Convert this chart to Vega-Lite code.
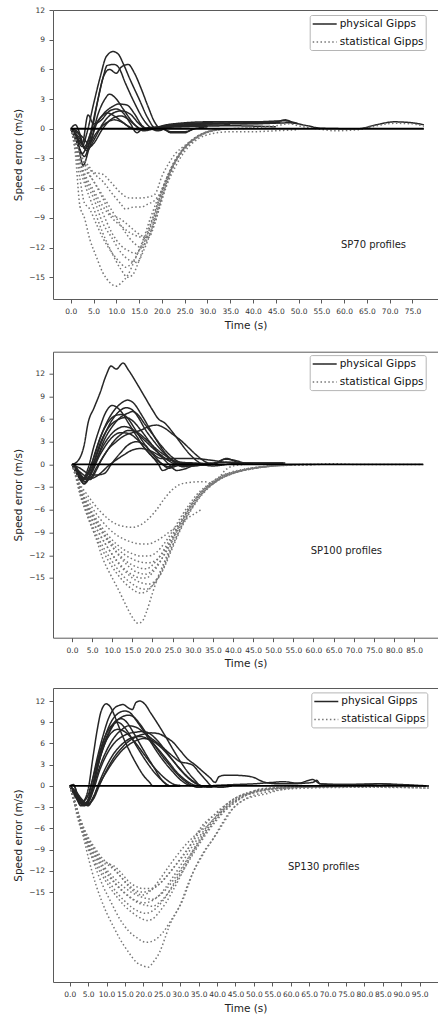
{
  "$schema": "https://vega.github.io/schema/vega-lite/v6.json",
  "padding": {"left": 13, "top": 6, "right": 0, "bottom": 0},
  "bounds": "flush",
  "spacing": 52.7,
  "resolve": {"scale": {"color": "independent", "strokeDash": "independent"}},
  "config": {
    "font": "DejaVu Sans",
    "view": {"stroke": null},
    "axis": {"domainColor": "#5a5a5a", "domainWidth": 1, "tickColor": "#5a5a5a", "tickSize": 4, "labelFontSize": 7.5, "labelColor": "#333333", "labelPadding": 4.5, "titleFontSize": 10.5, "titleFontWeight": "normal", "titleColor": "#222222", "grid": false, "labelFont": "DejaVu Sans", "titleFont": "DejaVu Sans", "labelOverlap": false},
    "axisX": {"titlePadding": 5, "labelAngle": 0, "labelOverlap": false, "labelFlush": false},
    "axisY": {"titlePadding": 5, "labelOverlap": false, "labelFlush": false},
    "legend": {"symbolSize": 144, "symbolStrokeWidth": 1.5, "padding": 2, "rowPadding": 5, "labelOffset": 8, "symbolOffset": 6, "fillColor": "#ffffff", "strokeColor": "#b5b5b5", "cornerRadius": 2, "labelFontSize": 10.5, "labelColor": "#111111", "labelLimit": 300, "labelFont": "DejaVu Sans"}
  },
  "datasets": {
    "d70": [
      {"g":"pa","m":"p","t":0,"v":0},{"g":"pa","m":"p","t":1,"v":-0.6},{"g":"pa","m":"p","t":2.5,"v":-1.8},{"g":"pa","m":"p","t":3.5,"v":-0.5},{"g":"pa","m":"p","t":5,"v":2.5},{"g":"pa","m":"p","t":6.5,"v":5.3},{"g":"pa","m":"p","t":7.8,"v":7.3},{"g":"pa","m":"p","t":9.3,"v":7.8},{"g":"pa","m":"p","t":10.5,"v":7.5},{"g":"pa","m":"p","t":11.5,"v":6.6},{"g":"pa","m":"p","t":13,"v":5},{"g":"pa","m":"p","t":15,"v":3},{"g":"pa","m":"p","t":17,"v":1},{"g":"pa","m":"p","t":18.5,"v":0.1},{"g":"pa","m":"p","t":20,"v":0.3},{"g":"pa","m":"p","t":25,"v":0.6},{"g":"pa","m":"p","t":30,"v":0.7},{"g":"pa","m":"p","t":40,"v":0.7},{"g":"pa","m":"p","t":47,"v":0.8},{"g":"pa","m":"p","t":50,"v":0.5},
      {"g":"pb","m":"p","t":0,"v":0},{"g":"pb","m":"p","t":1,"v":-1},{"g":"pb","m":"p","t":2.5,"v":-2.5},{"g":"pb","m":"p","t":4,"v":-1},{"g":"pb","m":"p","t":5.5,"v":2},{"g":"pb","m":"p","t":7,"v":5},{"g":"pb","m":"p","t":8,"v":6.4},{"g":"pb","m":"p","t":9.5,"v":6.5},{"g":"pb","m":"p","t":10.5,"v":6.2},{"g":"pb","m":"p","t":12,"v":4.6},{"g":"pb","m":"p","t":14,"v":2.6},{"g":"pb","m":"p","t":16,"v":0.9},{"g":"pb","m":"p","t":17.5,"v":0.1},{"g":"pb","m":"p","t":19,"v":-0.2},{"g":"pb","m":"p","t":22,"v":0.2},{"g":"pb","m":"p","t":30,"v":0.5},{"g":"pb","m":"p","t":40,"v":0.6},{"g":"pb","m":"p","t":46,"v":0.6},
      {"g":"pc","m":"p","t":0,"v":0},{"g":"pc","m":"p","t":1.5,"v":-1.5},{"g":"pc","m":"p","t":3,"v":-2.8},{"g":"pc","m":"p","t":4.5,"v":-0.5},{"g":"pc","m":"p","t":6,"v":3},{"g":"pc","m":"p","t":7.2,"v":5.3},{"g":"pc","m":"p","t":8.5,"v":6},{"g":"pc","m":"p","t":10,"v":5.6},{"g":"pc","m":"p","t":11,"v":6.2},{"g":"pc","m":"p","t":12.6,"v":6.5},{"g":"pc","m":"p","t":14,"v":5.6},{"g":"pc","m":"p","t":15.5,"v":4},{"g":"pc","m":"p","t":17,"v":2.2},{"g":"pc","m":"p","t":18.5,"v":0.6},{"g":"pc","m":"p","t":19.5,"v":0.1},{"g":"pc","m":"p","t":21,"v":0.3},{"g":"pc","m":"p","t":30,"v":0.6},{"g":"pc","m":"p","t":40,"v":0.5},{"g":"pc","m":"p","t":48,"v":0.6},{"g":"pc","m":"p","t":52,"v":0.3},{"g":"pc","m":"p","t":55,"v":0.05},{"g":"pc","m":"p","t":63,"v":0},{"g":"pc","m":"p","t":67,"v":0.4},{"g":"pc","m":"p","t":71,"v":0.7},{"g":"pc","m":"p","t":75,"v":0.6},{"g":"pc","m":"p","t":77.5,"v":0.4},
      {"g":"pd","m":"p","t":0,"v":0},{"g":"pd","m":"p","t":1,"v":0.4},{"g":"pd","m":"p","t":2,"v":-0.5},{"g":"pd","m":"p","t":3,"v":-2},{"g":"pd","m":"p","t":4.5,"v":-1},{"g":"pd","m":"p","t":6,"v":1.5},{"g":"pd","m":"p","t":7.5,"v":3},{"g":"pd","m":"p","t":8.5,"v":3.5},{"g":"pd","m":"p","t":10,"v":3},{"g":"pd","m":"p","t":11.5,"v":2},{"g":"pd","m":"p","t":13,"v":1},{"g":"pd","m":"p","t":14.5,"v":0.2},{"g":"pd","m":"p","t":16,"v":-0.2},{"g":"pd","m":"p","t":20,"v":0.2},{"g":"pd","m":"p","t":30,"v":0.5},{"g":"pd","m":"p","t":45,"v":0.7},{"g":"pd","m":"p","t":47,"v":0.9},{"g":"pd","m":"p","t":49,"v":0.5},
      {"g":"pe","m":"p","t":0,"v":0},{"g":"pe","m":"p","t":1.5,"v":-1.2},{"g":"pe","m":"p","t":2.7,"v":-3.7},{"g":"pe","m":"p","t":4,"v":-2},{"g":"pe","m":"p","t":5.5,"v":0.3},{"g":"pe","m":"p","t":7,"v":1.4},{"g":"pe","m":"p","t":9,"v":2.2},{"g":"pe","m":"p","t":10.5,"v":2.5},{"g":"pe","m":"p","t":12.3,"v":2.4},{"g":"pe","m":"p","t":14,"v":1.5},{"g":"pe","m":"p","t":15.5,"v":0.4},{"g":"pe","m":"p","t":17,"v":0},{"g":"pe","m":"p","t":20,"v":0.2},{"g":"pe","m":"p","t":25,"v":0.5},{"g":"pe","m":"p","t":35,"v":0.5},{"g":"pe","m":"p","t":45,"v":0.6},
      {"g":"pf","m":"p","t":0,"v":0},{"g":"pf","m":"p","t":1,"v":-0.5},{"g":"pf","m":"p","t":2.5,"v":-1.5},{"g":"pf","m":"p","t":3.8,"v":1.4},{"g":"pf","m":"p","t":5,"v":0.5},{"g":"pf","m":"p","t":6.5,"v":0.8},{"g":"pf","m":"p","t":8.5,"v":1.8},{"g":"pf","m":"p","t":10,"v":2},{"g":"pf","m":"p","t":11.5,"v":1.6},{"g":"pf","m":"p","t":13,"v":0.6},{"g":"pf","m":"p","t":14.5,"v":-0.4},{"g":"pf","m":"p","t":15.5,"v":-0.1},{"g":"pf","m":"p","t":17,"v":0.1},{"g":"pf","m":"p","t":20,"v":0.2},{"g":"pf","m":"p","t":30,"v":0.3},
      {"g":"pg","m":"p","t":0,"v":0},{"g":"pg","m":"p","t":2,"v":-1},{"g":"pg","m":"p","t":3.5,"v":-2.2},{"g":"pg","m":"p","t":5,"v":-1.2},{"g":"pg","m":"p","t":7,"v":0.5},{"g":"pg","m":"p","t":9,"v":1.5},{"g":"pg","m":"p","t":11,"v":1.8},{"g":"pg","m":"p","t":13,"v":1.5},{"g":"pg","m":"p","t":15,"v":0.5},{"g":"pg","m":"p","t":16.5,"v":0},{"g":"pg","m":"p","t":20,"v":0},{"g":"pg","m":"p","t":22,"v":-0.4},{"g":"pg","m":"p","t":25,"v":-0.4},{"g":"pg","m":"p","t":26.5,"v":-0.1},{"g":"pg","m":"p","t":30,"v":0.2},
      {"g":"ph","m":"p","t":0,"v":0},{"g":"ph","m":"p","t":2,"v":-1.3},{"g":"ph","m":"p","t":3.5,"v":-2},{"g":"ph","m":"p","t":5,"v":-1.5},{"g":"ph","m":"p","t":7,"v":0},{"g":"ph","m":"p","t":9,"v":1},{"g":"ph","m":"p","t":11,"v":1.3},{"g":"ph","m":"p","t":12.5,"v":1},{"g":"ph","m":"p","t":14,"v":0.4},{"g":"ph","m":"p","t":15.5,"v":0},{"g":"ph","m":"p","t":20,"v":0},{"g":"ph","m":"p","t":22,"v":-0.3},{"g":"ph","m":"p","t":25,"v":-0.3},{"g":"ph","m":"p","t":27,"v":0},
      {"g":"pi","m":"p","t":0,"v":0},{"g":"pi","m":"p","t":2.5,"v":-0.8},{"g":"pi","m":"p","t":4,"v":-1.5},{"g":"pi","m":"p","t":5.5,"v":-0.5},{"g":"pi","m":"p","t":7.5,"v":0.5},{"g":"pi","m":"p","t":9.5,"v":0.9},{"g":"pi","m":"p","t":11.5,"v":0.6},{"g":"pi","m":"p","t":13,"v":0.1},{"g":"pi","m":"p","t":15,"v":-0.1},{"g":"pi","m":"p","t":19,"v":0.1},{"g":"pi","m":"p","t":25,"v":0.2},{"g":"pi","m":"p","t":35,"v":0.3},{"g":"pi","m":"p","t":45,"v":0.2},
      {"g":"pj","m":"p","t":0,"v":0},{"g":"pj","m":"p","t":1.5,"v":-0.3},{"g":"pj","m":"p","t":3,"v":-1.8},{"g":"pj","m":"p","t":4.5,"v":-0.3},{"g":"pj","m":"p","t":6.5,"v":1.1},{"g":"pj","m":"p","t":8,"v":1.6},{"g":"pj","m":"p","t":9.5,"v":1.3},{"g":"pj","m":"p","t":11,"v":0.8},{"g":"pj","m":"p","t":12.5,"v":0.3},{"g":"pj","m":"p","t":14,"v":0},{"g":"pj","m":"p","t":18,"v":0.1},{"g":"pj","m":"p","t":25,"v":0.3},{"g":"pj","m":"p","t":35,"v":0.4},
      {"g":"s1","m":"s","t":0,"v":0},{"g":"s1","m":"s","t":1,"v":-1},{"g":"s1","m":"s","t":2,"v":-2.5},{"g":"s1","m":"s","t":3,"v":-3.2},{"g":"s1","m":"s","t":4,"v":-3.8},{"g":"s1","m":"s","t":5,"v":-4.4},{"g":"s1","m":"s","t":7,"v":-4.6},{"g":"s1","m":"s","t":9,"v":-5.5},{"g":"s1","m":"s","t":11,"v":-6.5},{"g":"s1","m":"s","t":13,"v":-7},{"g":"s1","m":"s","t":15,"v":-7},{"g":"s1","m":"s","t":17,"v":-6.9},{"g":"s1","m":"s","t":18.5,"v":-6.6},{"g":"s1","m":"s","t":20,"v":-4.8},{"g":"s1","m":"s","t":21.5,"v":-3.5},{"g":"s1","m":"s","t":23,"v":-2.5},{"g":"s1","m":"s","t":25,"v":-1.7},{"g":"s1","m":"s","t":28,"v":-0.7},{"g":"s1","m":"s","t":31,"v":-0.2},{"g":"s1","m":"s","t":35,"v":0},{"g":"s1","m":"s","t":40,"v":0.05},
      {"g":"s2","m":"s","t":0,"v":0},{"g":"s2","m":"s","t":1,"v":-1},{"g":"s2","m":"s","t":2,"v":-2.8},{"g":"s2","m":"s","t":3,"v":-3.5},{"g":"s2","m":"s","t":5,"v":-4.5},{"g":"s2","m":"s","t":7,"v":-5.3},{"g":"s2","m":"s","t":9,"v":-6.5},{"g":"s2","m":"s","t":11,"v":-7.6},{"g":"s2","m":"s","t":12,"v":-8.1},{"g":"s2","m":"s","t":14,"v":-7.9},{"g":"s2","m":"s","t":15.5,"v":-7.9},{"g":"s2","m":"s","t":17,"v":-7.6},{"g":"s2","m":"s","t":18.5,"v":-7.2},{"g":"s2","m":"s","t":19.5,"v":-6.6},{"g":"s2","m":"s","t":21,"v":-5},{"g":"s2","m":"s","t":22.5,"v":-3.6},{"g":"s2","m":"s","t":25,"v":-1.9},{"g":"s2","m":"s","t":28,"v":-0.8},{"g":"s2","m":"s","t":31,"v":-0.2},{"g":"s2","m":"s","t":35,"v":0},
      {"g":"s3","m":"s","t":0,"v":0},{"g":"s3","m":"s","t":1,"v":-1.2},{"g":"s3","m":"s","t":2,"v":-3},{"g":"s3","m":"s","t":3,"v":-4},{"g":"s3","m":"s","t":5,"v":-5.3},{"g":"s3","m":"s","t":7,"v":-7},{"g":"s3","m":"s","t":9,"v":-8.8},{"g":"s3","m":"s","t":10.5,"v":-9},{"g":"s3","m":"s","t":12,"v":-9.5},{"g":"s3","m":"s","t":14,"v":-10.3},{"g":"s3","m":"s","t":16,"v":-10.9},{"g":"s3","m":"s","t":17,"v":-11},{"g":"s3","m":"s","t":18.5,"v":-9.5},{"g":"s3","m":"s","t":20,"v":-7},{"g":"s3","m":"s","t":21.5,"v":-5},{"g":"s3","m":"s","t":23,"v":-3.3},{"g":"s3","m":"s","t":25,"v":-1.9},{"g":"s3","m":"s","t":28,"v":-0.8},{"g":"s3","m":"s","t":31,"v":-0.2},{"g":"s3","m":"s","t":35,"v":0},{"g":"s3","m":"s","t":40,"v":0.1},{"g":"s3","m":"s","t":45,"v":0.3},{"g":"s3","m":"s","t":48,"v":0.5},{"g":"s3","m":"s","t":50,"v":0.3},{"g":"s3","m":"s","t":54,"v":0},{"g":"s3","m":"s","t":58,"v":-0.2},{"g":"s3","m":"s","t":63,"v":-0.1},{"g":"s3","m":"s","t":67,"v":0.3},{"g":"s3","m":"s","t":71,"v":0.55},{"g":"s3","m":"s","t":75,"v":0.5},{"g":"s3","m":"s","t":77.5,"v":0.25},
      {"g":"s4","m":"s","t":0,"v":0},{"g":"s4","m":"s","t":1,"v":-1.5},{"g":"s4","m":"s","t":2,"v":-3.5},{"g":"s4","m":"s","t":3,"v":-4.8},{"g":"s4","m":"s","t":5,"v":-6.5},{"g":"s4","m":"s","t":7,"v":-8.5},{"g":"s4","m":"s","t":9,"v":-10.5},{"g":"s4","m":"s","t":11,"v":-11.8},{"g":"s4","m":"s","t":13,"v":-12.4},{"g":"s4","m":"s","t":14,"v":-12.6},{"g":"s4","m":"s","t":15.5,"v":-12},{"g":"s4","m":"s","t":17,"v":-10.5},{"g":"s4","m":"s","t":18.5,"v":-8.6},{"g":"s4","m":"s","t":20,"v":-6.3},{"g":"s4","m":"s","t":22,"v":-4},{"g":"s4","m":"s","t":24,"v":-2.4},{"g":"s4","m":"s","t":27,"v":-1},{"g":"s4","m":"s","t":30,"v":-0.3},{"g":"s4","m":"s","t":34,"v":0},
      {"g":"s5","m":"s","t":0,"v":0},{"g":"s5","m":"s","t":1,"v":-1.3},{"g":"s5","m":"s","t":2,"v":-3.2},{"g":"s5","m":"s","t":3,"v":-5},{"g":"s5","m":"s","t":5,"v":-7},{"g":"s5","m":"s","t":7,"v":-9.5},{"g":"s5","m":"s","t":9,"v":-11},{"g":"s5","m":"s","t":11,"v":-12.5},{"g":"s5","m":"s","t":13,"v":-13.3},{"g":"s5","m":"s","t":14.5,"v":-13.5},{"g":"s5","m":"s","t":16,"v":-12.3},{"g":"s5","m":"s","t":17.5,"v":-10.5},{"g":"s5","m":"s","t":19,"v":-8.3},{"g":"s5","m":"s","t":20.5,"v":-6.2},{"g":"s5","m":"s","t":22,"v":-4.2},{"g":"s5","m":"s","t":24,"v":-2.5},{"g":"s5","m":"s","t":27,"v":-1},{"g":"s5","m":"s","t":30,"v":-0.3},{"g":"s5","m":"s","t":34,"v":0},
      {"g":"s6","m":"s","t":0,"v":0},{"g":"s6","m":"s","t":1,"v":-1.8},{"g":"s6","m":"s","t":2,"v":-4},{"g":"s6","m":"s","t":3,"v":-5.5},{"g":"s6","m":"s","t":5,"v":-8},{"g":"s6","m":"s","t":7,"v":-10.5},{"g":"s6","m":"s","t":9,"v":-12.5},{"g":"s6","m":"s","t":11,"v":-14.2},{"g":"s6","m":"s","t":12.5,"v":-15},{"g":"s6","m":"s","t":13.5,"v":-14.8},{"g":"s6","m":"s","t":15,"v":-13.3},{"g":"s6","m":"s","t":16.5,"v":-11.2},{"g":"s6","m":"s","t":18,"v":-9},{"g":"s6","m":"s","t":19.5,"v":-7},{"g":"s6","m":"s","t":21,"v":-5.2},{"g":"s6","m":"s","t":23,"v":-3.3},{"g":"s6","m":"s","t":25,"v":-2},{"g":"s6","m":"s","t":28,"v":-0.8},{"g":"s6","m":"s","t":32,"v":-0.1},{"g":"s6","m":"s","t":35,"v":0},
      {"g":"s7","m":"s","t":0,"v":0},{"g":"s7","m":"s","t":1,"v":-2.5},{"g":"s7","m":"s","t":2,"v":-7.8},{"g":"s7","m":"s","t":3,"v":-9},{"g":"s7","m":"s","t":4.2,"v":-11.2},{"g":"s7","m":"s","t":5.5,"v":-12.8},{"g":"s7","m":"s","t":7,"v":-14.5},{"g":"s7","m":"s","t":8.5,"v":-15.5},{"g":"s7","m":"s","t":10,"v":-15.9},{"g":"s7","m":"s","t":11,"v":-15.6},{"g":"s7","m":"s","t":12.5,"v":-14.8},{"g":"s7","m":"s","t":14,"v":-13.3},{"g":"s7","m":"s","t":15.9,"v":-11.2},{"g":"s7","m":"s","t":17.5,"v":-9},{"g":"s7","m":"s","t":19,"v":-7.2},{"g":"s7","m":"s","t":20.3,"v":-5.8},{"g":"s7","m":"s","t":22.6,"v":-3.4},{"g":"s7","m":"s","t":25.4,"v":-1.7},{"g":"s7","m":"s","t":28.3,"v":-0.7},{"g":"s7","m":"s","t":31.2,"v":-0.2},{"g":"s7","m":"s","t":34.2,"v":0},
      {"g":"s8","m":"s","t":0,"v":0},{"g":"s8","m":"s","t":1,"v":-1},{"g":"s8","m":"s","t":2,"v":-2.5},{"g":"s8","m":"s","t":3,"v":-3.5},{"g":"s8","m":"s","t":4,"v":-4.5},{"g":"s8","m":"s","t":6,"v":-6},{"g":"s8","m":"s","t":8,"v":-7.5},{"g":"s8","m":"s","t":10,"v":-9},{"g":"s8","m":"s","t":12,"v":-10.5},{"g":"s8","m":"s","t":14,"v":-11.6},{"g":"s8","m":"s","t":15.5,"v":-12},{"g":"s8","m":"s","t":17,"v":-11},{"g":"s8","m":"s","t":18.5,"v":-9},{"g":"s8","m":"s","t":20,"v":-6.8},{"g":"s8","m":"s","t":22,"v":-4.3},{"g":"s8","m":"s","t":24,"v":-2.6},{"g":"s8","m":"s","t":27,"v":-1.1},{"g":"s8","m":"s","t":30,"v":-0.3},{"g":"s8","m":"s","t":34,"v":0},
      {"g":"s9","m":"s","t":0,"v":0},{"g":"s9","m":"s","t":1,"v":-2},{"g":"s9","m":"s","t":2,"v":-5},{"g":"s9","m":"s","t":3,"v":-7.5},{"g":"s9","m":"s","t":4,"v":-8},{"g":"s9","m":"s","t":5.5,"v":-9.5},{"g":"s9","m":"s","t":7,"v":-11},{"g":"s9","m":"s","t":9,"v":-12.5},{"g":"s9","m":"s","t":11,"v":-13.6},{"g":"s9","m":"s","t":12,"v":-14},{"g":"s9","m":"s","t":13.5,"v":-13.5},{"g":"s9","m":"s","t":15,"v":-12.3},{"g":"s9","m":"s","t":16.5,"v":-10.7},{"g":"s9","m":"s","t":18,"v":-9},{"g":"s9","m":"s","t":19.5,"v":-7},{"g":"s9","m":"s","t":21,"v":-5.2},{"g":"s9","m":"s","t":23,"v":-3.3},{"g":"s9","m":"s","t":25,"v":-2},{"g":"s9","m":"s","t":28,"v":-0.8},{"g":"s9","m":"s","t":32,"v":-0.1},{"g":"s9","m":"s","t":35,"v":0},
      {"g":"s10","m":"s","t":0,"v":0},{"g":"s10","m":"s","t":1,"v":-1.4},{"g":"s10","m":"s","t":2,"v":-3.2},{"g":"s10","m":"s","t":3,"v":-4.5},{"g":"s10","m":"s","t":5,"v":-6.2},{"g":"s10","m":"s","t":7,"v":-7.8},{"g":"s10","m":"s","t":9,"v":-9},{"g":"s10","m":"s","t":11,"v":-9.8},{"g":"s10","m":"s","t":13,"v":-10.5},{"g":"s10","m":"s","t":15,"v":-10.9},{"g":"s10","m":"s","t":16.5,"v":-11},{"g":"s10","m":"s","t":18,"v":-10},{"g":"s10","m":"s","t":19.5,"v":-8},{"g":"s10","m":"s","t":21,"v":-5.8},{"g":"s10","m":"s","t":23,"v":-3.8},{"g":"s10","m":"s","t":25,"v":-2.3},{"g":"s10","m":"s","t":28,"v":-1},{"g":"s10","m":"s","t":31,"v":-0.5},{"g":"s10","m":"s","t":35,"v":-0.3},{"g":"s10","m":"s","t":40,"v":-0.3},{"g":"s10","m":"s","t":45,"v":-0.2},{"g":"s10","m":"s","t":50,"v":-0.1}
    ],
    "d100": [
      {"g":"pa","m":"p","t":0,"v":0},{"g":"pa","m":"p","t":1.5,"v":0.5},{"g":"pa","m":"p","t":3,"v":2.5},{"g":"pa","m":"p","t":4,"v":5.5},{"g":"pa","m":"p","t":5.5,"v":7.5},{"g":"pa","m":"p","t":7,"v":9.5},{"g":"pa","m":"p","t":8.5,"v":11.8},{"g":"pa","m":"p","t":9.7,"v":13},{"g":"pa","m":"p","t":11,"v":12.6},{"g":"pa","m":"p","t":12.7,"v":13.4},{"g":"pa","m":"p","t":14,"v":12.5},{"g":"pa","m":"p","t":16,"v":10.8},{"g":"pa","m":"p","t":18,"v":9},{"g":"pa","m":"p","t":20,"v":7.2},{"g":"pa","m":"p","t":21.5,"v":6},{"g":"pa","m":"p","t":23,"v":5.5},{"g":"pa","m":"p","t":24.5,"v":4.6},{"g":"pa","m":"p","t":26.5,"v":3.2},{"g":"pa","m":"p","t":28.5,"v":1.8},{"g":"pa","m":"p","t":30.5,"v":0.7},{"g":"pa","m":"p","t":32.5,"v":0},{"g":"pa","m":"p","t":35,"v":-0.2},{"g":"pa","m":"p","t":40,"v":0.1},{"g":"pa","m":"p","t":45,"v":0.2},{"g":"pa","m":"p","t":50,"v":0.2},{"g":"pa","m":"p","t":53,"v":0.2},
      {"g":"pb","m":"p","t":0,"v":0},{"g":"pb","m":"p","t":1.5,"v":-1.2},{"g":"pb","m":"p","t":3,"v":-2},{"g":"pb","m":"p","t":4.5,"v":-0.5},{"g":"pb","m":"p","t":6,"v":2},{"g":"pb","m":"p","t":8,"v":4.8},{"g":"pb","m":"p","t":10,"v":6.8},{"g":"pb","m":"p","t":12,"v":8},{"g":"pb","m":"p","t":13.8,"v":8.5},{"g":"pb","m":"p","t":15.5,"v":8},{"g":"pb","m":"p","t":17,"v":6.8},{"g":"pb","m":"p","t":19,"v":5},{"g":"pb","m":"p","t":21,"v":3.2},{"g":"pb","m":"p","t":23,"v":1.6},{"g":"pb","m":"p","t":25,"v":0.5},{"g":"pb","m":"p","t":27,"v":-0.2},{"g":"pb","m":"p","t":29,"v":-0.1},{"g":"pb","m":"p","t":35,"v":0.2},{"g":"pb","m":"p","t":40,"v":0.3},
      {"g":"pc","m":"p","t":0,"v":0},{"g":"pc","m":"p","t":1,"v":-1},{"g":"pc","m":"p","t":2.5,"v":-2.2},{"g":"pc","m":"p","t":4,"v":-0.5},{"g":"pc","m":"p","t":5.5,"v":2.5},{"g":"pc","m":"p","t":7,"v":5},{"g":"pc","m":"p","t":8.5,"v":7},{"g":"pc","m":"p","t":10,"v":7.8},{"g":"pc","m":"p","t":11,"v":7.6},{"g":"pc","m":"p","t":12.5,"v":6.8},{"g":"pc","m":"p","t":14,"v":5.5},{"g":"pc","m":"p","t":16,"v":3.8},{"g":"pc","m":"p","t":18,"v":2.2},{"g":"pc","m":"p","t":20,"v":1},{"g":"pc","m":"p","t":22,"v":0.2},{"g":"pc","m":"p","t":24,"v":-0.3},{"g":"pc","m":"p","t":26,"v":0},{"g":"pc","m":"p","t":30,"v":0.2},
      {"g":"pd","m":"p","t":0,"v":0},{"g":"pd","m":"p","t":1.5,"v":-1.5},{"g":"pd","m":"p","t":3,"v":-2.5},{"g":"pd","m":"p","t":4.5,"v":-1.2},{"g":"pd","m":"p","t":6,"v":1},{"g":"pd","m":"p","t":8,"v":3.8},{"g":"pd","m":"p","t":10,"v":5.9},{"g":"pd","m":"p","t":11.5,"v":6.9},{"g":"pd","m":"p","t":13.5,"v":7.5},{"g":"pd","m":"p","t":15,"v":7.2},{"g":"pd","m":"p","t":16.5,"v":6.2},{"g":"pd","m":"p","t":18,"v":4.8},{"g":"pd","m":"p","t":20,"v":3.3},{"g":"pd","m":"p","t":22,"v":2},{"g":"pd","m":"p","t":24,"v":0.9},{"g":"pd","m":"p","t":26,"v":0.1},{"g":"pd","m":"p","t":27.5,"v":-0.3},{"g":"pd","m":"p","t":30,"v":-0.1},
      {"g":"pe","m":"p","t":0,"v":0},{"g":"pe","m":"p","t":2,"v":-1.8},{"g":"pe","m":"p","t":3.5,"v":-2.3},{"g":"pe","m":"p","t":5,"v":-0.8},{"g":"pe","m":"p","t":6.5,"v":1.2},{"g":"pe","m":"p","t":8,"v":3.2},{"g":"pe","m":"p","t":10,"v":5},{"g":"pe","m":"p","t":12,"v":6.2},{"g":"pe","m":"p","t":14,"v":6.8},{"g":"pe","m":"p","t":15,"v":7},{"g":"pe","m":"p","t":16.5,"v":6.5},{"g":"pe","m":"p","t":18,"v":5.4},{"g":"pe","m":"p","t":20,"v":4},{"g":"pe","m":"p","t":22,"v":2.6},{"g":"pe","m":"p","t":24,"v":1.4},{"g":"pe","m":"p","t":26,"v":0.5},{"g":"pe","m":"p","t":28,"v":0},{"g":"pe","m":"p","t":32,"v":0.1},
      {"g":"pf","m":"p","t":0,"v":0},{"g":"pf","m":"p","t":1,"v":-0.5},{"g":"pf","m":"p","t":2.5,"v":-2},{"g":"pf","m":"p","t":4,"v":-1},{"g":"pf","m":"p","t":5.5,"v":1},{"g":"pf","m":"p","t":7,"v":3.5},{"g":"pf","m":"p","t":9,"v":5.6},{"g":"pf","m":"p","t":11,"v":6.5},{"g":"pf","m":"p","t":12.5,"v":6.6},{"g":"pf","m":"p","t":14,"v":6},{"g":"pf","m":"p","t":15.5,"v":4.8},{"g":"pf","m":"p","t":17,"v":3.5},{"g":"pf","m":"p","t":19,"v":2},{"g":"pf","m":"p","t":21,"v":0.8},{"g":"pf","m":"p","t":22.5,"v":0},{"g":"pf","m":"p","t":24,"v":-0.5},{"g":"pf","m":"p","t":26,"v":-0.2},{"g":"pf","m":"p","t":30,"v":0.1},
      {"g":"pg","m":"p","t":0,"v":0},{"g":"pg","m":"p","t":1.5,"v":-0.8},{"g":"pg","m":"p","t":3,"v":-1.8},{"g":"pg","m":"p","t":4.5,"v":-2},{"g":"pg","m":"p","t":6,"v":-0.8},{"g":"pg","m":"p","t":7.5,"v":0.8},{"g":"pg","m":"p","t":9,"v":2},{"g":"pg","m":"p","t":11,"v":3},{"g":"pg","m":"p","t":13,"v":3.8},{"g":"pg","m":"p","t":15,"v":4.2},{"g":"pg","m":"p","t":17,"v":4.5},{"g":"pg","m":"p","t":19,"v":5},{"g":"pg","m":"p","t":21,"v":5.2},{"g":"pg","m":"p","t":23,"v":4.8},{"g":"pg","m":"p","t":25,"v":4},{"g":"pg","m":"p","t":27,"v":3.2},{"g":"pg","m":"p","t":29,"v":2.2},{"g":"pg","m":"p","t":31,"v":1.2},{"g":"pg","m":"p","t":33,"v":0.4},{"g":"pg","m":"p","t":35,"v":0},{"g":"pg","m":"p","t":37,"v":0.5},{"g":"pg","m":"p","t":38.5,"v":0.8},{"g":"pg","m":"p","t":40,"v":0.5},{"g":"pg","m":"p","t":42,"v":0.2},{"g":"pg","m":"p","t":45,"v":0.1},
      {"g":"ph","m":"p","t":0,"v":0},{"g":"ph","m":"p","t":1.5,"v":-1.2},{"g":"ph","m":"p","t":3,"v":-2.6},{"g":"ph","m":"p","t":4.5,"v":-1.5},{"g":"ph","m":"p","t":6,"v":0.5},{"g":"ph","m":"p","t":7.5,"v":2.2},{"g":"ph","m":"p","t":9,"v":3.5},{"g":"ph","m":"p","t":11,"v":4.6},{"g":"ph","m":"p","t":13,"v":5},{"g":"ph","m":"p","t":14.5,"v":4.8},{"g":"ph","m":"p","t":16,"v":4.2},{"g":"ph","m":"p","t":18,"v":3.2},{"g":"ph","m":"p","t":20,"v":2.2},{"g":"ph","m":"p","t":22,"v":1.3},{"g":"ph","m":"p","t":24,"v":0.5},{"g":"ph","m":"p","t":26,"v":0},{"g":"ph","m":"p","t":30,"v":-0.2},{"g":"ph","m":"p","t":32,"v":-0.1},
      {"g":"pi","m":"p","t":0,"v":0},{"g":"pi","m":"p","t":2,"v":-1.5},{"g":"pi","m":"p","t":3.5,"v":-2},{"g":"pi","m":"p","t":5,"v":-1},{"g":"pi","m":"p","t":6.5,"v":0.8},{"g":"pi","m":"p","t":8,"v":2.2},{"g":"pi","m":"p","t":10,"v":3.6},{"g":"pi","m":"p","t":12,"v":4.2},{"g":"pi","m":"p","t":14,"v":4.1},{"g":"pi","m":"p","t":16,"v":3.4},{"g":"pi","m":"p","t":18,"v":2.2},{"g":"pi","m":"p","t":20,"v":1},{"g":"pi","m":"p","t":21.5,"v":0},{"g":"pi","m":"p","t":22.5,"v":-0.8},{"g":"pi","m":"p","t":24,"v":-0.5},{"g":"pi","m":"p","t":26,"v":0},{"g":"pi","m":"p","t":30,"v":0.1},
      {"g":"pj","m":"p","t":0,"v":0},{"g":"pj","m":"p","t":1.5,"v":-1},{"g":"pj","m":"p","t":3,"v":-2},{"g":"pj","m":"p","t":4.5,"v":-1.8},{"g":"pj","m":"p","t":6,"v":-0.5},{"g":"pj","m":"p","t":8,"v":1.2},{"g":"pj","m":"p","t":10,"v":2.8},{"g":"pj","m":"p","t":12,"v":3.9},{"g":"pj","m":"p","t":14,"v":4.5},{"g":"pj","m":"p","t":16,"v":4.3},{"g":"pj","m":"p","t":18,"v":3.5},{"g":"pj","m":"p","t":20,"v":2.5},{"g":"pj","m":"p","t":22,"v":1.6},{"g":"pj","m":"p","t":24,"v":0.9},{"g":"pj","m":"p","t":26,"v":0.3},{"g":"pj","m":"p","t":28,"v":0},{"g":"pj","m":"p","t":32,"v":0.1},
      {"g":"pk","m":"p","t":0,"v":0},{"g":"pk","m":"p","t":2,"v":-1},{"g":"pk","m":"p","t":3.5,"v":-1.6},{"g":"pk","m":"p","t":5,"v":-1.8},{"g":"pk","m":"p","t":7,"v":-1.2},{"g":"pk","m":"p","t":9,"v":-0.2},{"g":"pk","m":"p","t":11,"v":0.6},{"g":"pk","m":"p","t":13,"v":1.3},{"g":"pk","m":"p","t":15,"v":1.9},{"g":"pk","m":"p","t":17,"v":2.1},{"g":"pk","m":"p","t":19,"v":1.9},{"g":"pk","m":"p","t":21,"v":1.4},{"g":"pk","m":"p","t":23,"v":0.8},{"g":"pk","m":"p","t":25,"v":0.5},{"g":"pk","m":"p","t":27,"v":0.3},{"g":"pk","m":"p","t":30,"v":0.2},{"g":"pk","m":"p","t":35,"v":0.1},
      {"g":"pl","m":"p","t":0,"v":0},{"g":"pl","m":"p","t":2,"v":-0.5},{"g":"pl","m":"p","t":4,"v":-1.2},{"g":"pl","m":"p","t":6,"v":-1.4},{"g":"pl","m":"p","t":8,"v":-1.2},{"g":"pl","m":"p","t":10,"v":0.2},{"g":"pl","m":"p","t":12,"v":1.5},{"g":"pl","m":"p","t":14,"v":2.6},{"g":"pl","m":"p","t":16,"v":3},{"g":"pl","m":"p","t":18,"v":2.6},{"g":"pl","m":"p","t":20,"v":1.5},{"g":"pl","m":"p","t":22,"v":0.8},{"g":"pl","m":"p","t":26,"v":0.8},{"g":"pl","m":"p","t":30,"v":0.8},{"g":"pl","m":"p","t":34,"v":0.6},{"g":"pl","m":"p","t":38,"v":0.3},{"g":"pl","m":"p","t":42,"v":0.2},{"g":"pl","m":"p","t":47,"v":0.2},{"g":"pl","m":"p","t":52.5,"v":0.2},
      {"g":"pm","m":"p","t":0,"v":0},{"g":"pm","m":"p","t":1,"v":-0.3},{"g":"pm","m":"p","t":2.5,"v":-1.8},{"g":"pm","m":"p","t":4,"v":-1.3},{"g":"pm","m":"p","t":5.5,"v":0.5},{"g":"pm","m":"p","t":7,"v":2.8},{"g":"pm","m":"p","t":9,"v":4.8},{"g":"pm","m":"p","t":11,"v":5.8},{"g":"pm","m":"p","t":13.5,"v":6.2},{"g":"pm","m":"p","t":15,"v":5.8},{"g":"pm","m":"p","t":17,"v":4.6},{"g":"pm","m":"p","t":19,"v":3.2},{"g":"pm","m":"p","t":21,"v":1.8},{"g":"pm","m":"p","t":23,"v":0.6},{"g":"pm","m":"p","t":24.5,"v":-0.2},{"g":"pm","m":"p","t":26,"v":-0.8},{"g":"pm","m":"p","t":28,"v":-0.6},{"g":"pm","m":"p","t":30,"v":-0.2},{"g":"pm","m":"p","t":35,"v":0},{"g":"pm","m":"p","t":38,"v":0.7},{"g":"pm","m":"p","t":40,"v":0.6},{"g":"pm","m":"p","t":43,"v":0.1},
      {"g":"s1","m":"s","t":0,"v":0},{"g":"s1","m":"s","t":1,"v":-1.2},{"g":"s1","m":"s","t":2,"v":-2.6},{"g":"s1","m":"s","t":3.5,"v":-3.8},{"g":"s1","m":"s","t":5,"v":-4.9},{"g":"s1","m":"s","t":7,"v":-6.2},{"g":"s1","m":"s","t":9,"v":-7.2},{"g":"s1","m":"s","t":11,"v":-7.9},{"g":"s1","m":"s","t":13,"v":-8.2},{"g":"s1","m":"s","t":15,"v":-8.3},{"g":"s1","m":"s","t":17,"v":-8},{"g":"s1","m":"s","t":19,"v":-7.2},{"g":"s1","m":"s","t":21,"v":-6},{"g":"s1","m":"s","t":23,"v":-4.5},{"g":"s1","m":"s","t":25,"v":-3.3},{"g":"s1","m":"s","t":27,"v":-2.6},{"g":"s1","m":"s","t":29,"v":-2.4},{"g":"s1","m":"s","t":31,"v":-2.3},{"g":"s1","m":"s","t":33,"v":-2.3},{"g":"s1","m":"s","t":35,"v":-2.5},{"g":"s1","m":"s","t":36.5,"v":-1.8},{"g":"s1","m":"s","t":38,"v":-0.8},{"g":"s1","m":"s","t":40,"v":-0.2},{"g":"s1","m":"s","t":43,"v":0},
      {"g":"s2","m":"s","t":0,"v":0},{"g":"s2","m":"s","t":1,"v":-1.3},{"g":"s2","m":"s","t":2,"v":-2.9},{"g":"s2","m":"s","t":3.5,"v":-4.3},{"g":"s2","m":"s","t":5,"v":-5.7},{"g":"s2","m":"s","t":7,"v":-7.2},{"g":"s2","m":"s","t":9,"v":-8.4},{"g":"s2","m":"s","t":11,"v":-9.3},{"g":"s2","m":"s","t":13,"v":-9.9},{"g":"s2","m":"s","t":15,"v":-10.3},{"g":"s2","m":"s","t":17,"v":-10.5},{"g":"s2","m":"s","t":19,"v":-10.5},{"g":"s2","m":"s","t":21,"v":-10.1},{"g":"s2","m":"s","t":23,"v":-9.4},{"g":"s2","m":"s","t":25,"v":-8.6},{"g":"s2","m":"s","t":27,"v":-7.8},{"g":"s2","m":"s","t":29,"v":-7},{"g":"s2","m":"s","t":30.5,"v":-6.5},{"g":"s2","m":"s","t":32,"v":-6},
      {"g":"s3","m":"s","t":0,"v":0},{"g":"s3","m":"s","t":1,"v":-1.4},{"g":"s3","m":"s","t":2,"v":-3.1},{"g":"s3","m":"s","t":3.5,"v":-4.8},{"g":"s3","m":"s","t":5,"v":-6.3},{"g":"s3","m":"s","t":7,"v":-8},{"g":"s3","m":"s","t":9,"v":-9.4},{"g":"s3","m":"s","t":11,"v":-10.5},{"g":"s3","m":"s","t":13,"v":-11.3},{"g":"s3","m":"s","t":15,"v":-11.8},{"g":"s3","m":"s","t":17,"v":-12.1},{"g":"s3","m":"s","t":19,"v":-12.1},{"g":"s3","m":"s","t":21,"v":-11.6},{"g":"s3","m":"s","t":23,"v":-10.4},{"g":"s3","m":"s","t":25,"v":-8.8},{"g":"s3","m":"s","t":27,"v":-7},{"g":"s3","m":"s","t":29,"v":-5.4},{"g":"s3","m":"s","t":31,"v":-4},{"g":"s3","m":"s","t":33,"v":-3},{"g":"s3","m":"s","t":35,"v":-2.2},{"g":"s3","m":"s","t":38,"v":-1.3},{"g":"s3","m":"s","t":42,"v":-0.7},{"g":"s3","m":"s","t":46,"v":-0.35},{"g":"s3","m":"s","t":50,"v":-0.15},{"g":"s3","m":"s","t":55,"v":-0.05},{"g":"s3","m":"s","t":60,"v":0},
      {"g":"s4","m":"s","t":0,"v":0},{"g":"s4","m":"s","t":1,"v":-1.5},{"g":"s4","m":"s","t":2,"v":-3.3},{"g":"s4","m":"s","t":3.5,"v":-5.2},{"g":"s4","m":"s","t":5,"v":-6.8},{"g":"s4","m":"s","t":7,"v":-8.6},{"g":"s4","m":"s","t":9,"v":-10.2},{"g":"s4","m":"s","t":11,"v":-11.5},{"g":"s4","m":"s","t":13,"v":-12.6},{"g":"s4","m":"s","t":15,"v":-13.3},{"g":"s4","m":"s","t":17,"v":-13.7},{"g":"s4","m":"s","t":18.5,"v":-13.8},{"g":"s4","m":"s","t":20,"v":-13.3},{"g":"s4","m":"s","t":22,"v":-12},{"g":"s4","m":"s","t":24,"v":-10.2},{"g":"s4","m":"s","t":26,"v":-8.3},{"g":"s4","m":"s","t":28,"v":-6.5},{"g":"s4","m":"s","t":30,"v":-5},{"g":"s4","m":"s","t":32,"v":-3.7},{"g":"s4","m":"s","t":34,"v":-2.7},{"g":"s4","m":"s","t":37,"v":-1.6},{"g":"s4","m":"s","t":41,"v":-0.9},{"g":"s4","m":"s","t":45,"v":-0.5},{"g":"s4","m":"s","t":50,"v":-0.2},{"g":"s4","m":"s","t":55,"v":-0.05},
      {"g":"s5","m":"s","t":0,"v":0},{"g":"s5","m":"s","t":1,"v":-1.6},{"g":"s5","m":"s","t":2,"v":-3.5},{"g":"s5","m":"s","t":3.5,"v":-5.6},{"g":"s5","m":"s","t":5,"v":-7.4},{"g":"s5","m":"s","t":7,"v":-9.4},{"g":"s5","m":"s","t":9,"v":-11.1},{"g":"s5","m":"s","t":11,"v":-12.6},{"g":"s5","m":"s","t":13,"v":-13.8},{"g":"s5","m":"s","t":15,"v":-14.6},{"g":"s5","m":"s","t":17,"v":-15},{"g":"s5","m":"s","t":18.5,"v":-15},{"g":"s5","m":"s","t":20,"v":-14.3},{"g":"s5","m":"s","t":22,"v":-12.8},{"g":"s5","m":"s","t":24,"v":-10.7},{"g":"s5","m":"s","t":26,"v":-8.6},{"g":"s5","m":"s","t":28,"v":-6.7},{"g":"s5","m":"s","t":30,"v":-5.1},{"g":"s5","m":"s","t":32,"v":-3.8},{"g":"s5","m":"s","t":34,"v":-2.8},{"g":"s5","m":"s","t":37,"v":-1.7},{"g":"s5","m":"s","t":41,"v":-0.9},{"g":"s5","m":"s","t":45,"v":-0.5},{"g":"s5","m":"s","t":50,"v":-0.2},{"g":"s5","m":"s","t":55,"v":-0.05},
      {"g":"s6","m":"s","t":0,"v":0},{"g":"s6","m":"s","t":1,"v":-1.5},{"g":"s6","m":"s","t":2,"v":-3.4},{"g":"s6","m":"s","t":3.5,"v":-5.5},{"g":"s6","m":"s","t":5,"v":-7.3},{"g":"s6","m":"s","t":7,"v":-9.3},{"g":"s6","m":"s","t":9,"v":-11.1},{"g":"s6","m":"s","t":11,"v":-12.7},{"g":"s6","m":"s","t":13,"v":-14},{"g":"s6","m":"s","t":15,"v":-15},{"g":"s6","m":"s","t":17,"v":-15.6},{"g":"s6","m":"s","t":19,"v":-15.8},{"g":"s6","m":"s","t":21,"v":-15.2},{"g":"s6","m":"s","t":22.5,"v":-14},{"g":"s6","m":"s","t":24,"v":-12},{"g":"s6","m":"s","t":26,"v":-9.5},{"g":"s6","m":"s","t":28,"v":-7.3},{"g":"s6","m":"s","t":30,"v":-5.5},{"g":"s6","m":"s","t":32,"v":-4},{"g":"s6","m":"s","t":34,"v":-2.9},{"g":"s6","m":"s","t":37,"v":-1.8},{"g":"s6","m":"s","t":41,"v":-1},{"g":"s6","m":"s","t":45,"v":-0.55},{"g":"s6","m":"s","t":50,"v":-0.2},{"g":"s6","m":"s","t":55,"v":-0.05},{"g":"s6","m":"s","t":60,"v":0},
      {"g":"s7","m":"s","t":0,"v":0},{"g":"s7","m":"s","t":1,"v":-1.7},{"g":"s7","m":"s","t":2,"v":-3.8},{"g":"s7","m":"s","t":3.5,"v":-6},{"g":"s7","m":"s","t":5,"v":-8},{"g":"s7","m":"s","t":7,"v":-10.2},{"g":"s7","m":"s","t":9,"v":-12},{"g":"s7","m":"s","t":11,"v":-13.6},{"g":"s7","m":"s","t":13,"v":-14.9},{"g":"s7","m":"s","t":15,"v":-15.8},{"g":"s7","m":"s","t":17,"v":-16.4},{"g":"s7","m":"s","t":18.5,"v":-16.5},{"g":"s7","m":"s","t":20,"v":-16},{"g":"s7","m":"s","t":21.5,"v":-15},{"g":"s7","m":"s","t":23,"v":-13.5},{"g":"s7","m":"s","t":25,"v":-11},{"g":"s7","m":"s","t":27,"v":-8.6},{"g":"s7","m":"s","t":29,"v":-6.6},{"g":"s7","m":"s","t":31,"v":-4.9},{"g":"s7","m":"s","t":33,"v":-3.6},{"g":"s7","m":"s","t":36,"v":-2.2},{"g":"s7","m":"s","t":40,"v":-1.2},{"g":"s7","m":"s","t":45,"v":-0.55},{"g":"s7","m":"s","t":50,"v":-0.2},
      {"g":"s8","m":"s","t":0,"v":0},{"g":"s8","m":"s","t":1,"v":-1.8},{"g":"s8","m":"s","t":2,"v":-4},{"g":"s8","m":"s","t":3.5,"v":-6.3},{"g":"s8","m":"s","t":5,"v":-8.4},{"g":"s8","m":"s","t":7,"v":-10.7},{"g":"s8","m":"s","t":9,"v":-12.7},{"g":"s8","m":"s","t":11,"v":-14.3},{"g":"s8","m":"s","t":13,"v":-15.6},{"g":"s8","m":"s","t":15,"v":-16.5},{"g":"s8","m":"s","t":17,"v":-17},{"g":"s8","m":"s","t":18.5,"v":-16.8},{"g":"s8","m":"s","t":20,"v":-16},{"g":"s8","m":"s","t":21.5,"v":-14.8},{"g":"s8","m":"s","t":23,"v":-13},{"g":"s8","m":"s","t":25,"v":-10.7},{"g":"s8","m":"s","t":27,"v":-8.4},{"g":"s8","m":"s","t":29,"v":-6.4},{"g":"s8","m":"s","t":31,"v":-4.8},{"g":"s8","m":"s","t":33,"v":-3.5},{"g":"s8","m":"s","t":36,"v":-2.2},{"g":"s8","m":"s","t":40,"v":-1.2},{"g":"s8","m":"s","t":45,"v":-0.55},{"g":"s8","m":"s","t":50,"v":-0.2},
      {"g":"s9","m":"s","t":0,"v":0},{"g":"s9","m":"s","t":1,"v":-1.6},{"g":"s9","m":"s","t":1.9,"v":-3.6},{"g":"s9","m":"s","t":3.5,"v":-6.3},{"g":"s9","m":"s","t":6,"v":-9.8},{"g":"s9","m":"s","t":7.7,"v":-12.5},{"g":"s9","m":"s","t":9.5,"v":-14.5},{"g":"s9","m":"s","t":11,"v":-16},{"g":"s9","m":"s","t":12.5,"v":-17.6},{"g":"s9","m":"s","t":13.5,"v":-18.7},{"g":"s9","m":"s","t":15,"v":-20.2},{"g":"s9","m":"s","t":16.4,"v":-21},{"g":"s9","m":"s","t":17.5,"v":-20.7},{"g":"s9","m":"s","t":18.5,"v":-19.5},{"g":"s9","m":"s","t":20,"v":-17},{"g":"s9","m":"s","t":21.5,"v":-14.7},{"g":"s9","m":"s","t":23.4,"v":-12.3},{"g":"s9","m":"s","t":25,"v":-10},{"g":"s9","m":"s","t":26.8,"v":-8},{"g":"s9","m":"s","t":28.5,"v":-6.4},{"g":"s9","m":"s","t":30.1,"v":-5},{"g":"s9","m":"s","t":31.7,"v":-3.9},{"g":"s9","m":"s","t":33.4,"v":-3},{"g":"s9","m":"s","t":35,"v":-2.3},{"g":"s9","m":"s","t":36.7,"v":-1.7},{"g":"s9","m":"s","t":40.8,"v":-1},{"g":"s9","m":"s","t":45,"v":-0.55},{"g":"s9","m":"s","t":50,"v":-0.2},{"g":"s9","m":"s","t":55,"v":-0.1},{"g":"s9","m":"s","t":62,"v":0},
      {"g":"s10","m":"s","t":0,"v":0},{"g":"s10","m":"s","t":1,"v":-1.3},{"g":"s10","m":"s","t":2,"v":-3},{"g":"s10","m":"s","t":3.5,"v":-5},{"g":"s10","m":"s","t":5,"v":-6.6},{"g":"s10","m":"s","t":7,"v":-8.4},{"g":"s10","m":"s","t":9,"v":-10},{"g":"s10","m":"s","t":11,"v":-11.6},{"g":"s10","m":"s","t":13,"v":-12.9},{"g":"s10","m":"s","t":15,"v":-13.9},{"g":"s10","m":"s","t":17,"v":-14.4},{"g":"s10","m":"s","t":18.5,"v":-14.5},{"g":"s10","m":"s","t":20,"v":-14},{"g":"s10","m":"s","t":22,"v":-12.7},{"g":"s10","m":"s","t":24,"v":-11},{"g":"s10","m":"s","t":26,"v":-9},{"g":"s10","m":"s","t":28,"v":-7},{"g":"s10","m":"s","t":30,"v":-5.3},{"g":"s10","m":"s","t":32,"v":-4},{"g":"s10","m":"s","t":34,"v":-3},{"g":"s10","m":"s","t":37,"v":-1.9},{"g":"s10","m":"s","t":41,"v":-1},{"g":"s10","m":"s","t":45,"v":-0.5},{"g":"s10","m":"s","t":50,"v":-0.2},{"g":"s10","m":"s","t":55,"v":-0.1},{"g":"s10","m":"s","t":60,"v":0},{"g":"s10","m":"s","t":65,"v":0.1},{"g":"s10","m":"s","t":70,"v":0},{"g":"s10","m":"s","t":80,"v":0},{"g":"s10","m":"s","t":87.5,"v":0},
      {"g":"s11","m":"s","t":0,"v":0},{"g":"s11","m":"s","t":1,"v":-1.4},{"g":"s11","m":"s","t":2,"v":-3.2},{"g":"s11","m":"s","t":3.5,"v":-5},{"g":"s11","m":"s","t":5,"v":-6.6},{"g":"s11","m":"s","t":7,"v":-8.4},{"g":"s11","m":"s","t":9,"v":-9.9},{"g":"s11","m":"s","t":11,"v":-11},{"g":"s11","m":"s","t":13,"v":-11.9},{"g":"s11","m":"s","t":15,"v":-12.5},{"g":"s11","m":"s","t":17,"v":-12.9},{"g":"s11","m":"s","t":19,"v":-13},{"g":"s11","m":"s","t":21,"v":-12.6},{"g":"s11","m":"s","t":23,"v":-11.4},{"g":"s11","m":"s","t":25,"v":-9.6},{"g":"s11","m":"s","t":27,"v":-7.6},{"g":"s11","m":"s","t":29,"v":-5.9},{"g":"s11","m":"s","t":31,"v":-4.4},{"g":"s11","m":"s","t":33,"v":-3.2},{"g":"s11","m":"s","t":35,"v":-2.5},{"g":"s11","m":"s","t":38,"v":-1.5},{"g":"s11","m":"s","t":42,"v":-0.8},{"g":"s11","m":"s","t":46,"v":-0.4},{"g":"s11","m":"s","t":50,"v":-0.2}
    ],
    "d130": [
      {"g":"pa","m":"p","t":0,"v":0},{"g":"pa","m":"p","t":1,"v":0.2},{"g":"pa","m":"p","t":2,"v":-1},{"g":"pa","m":"p","t":3.5,"v":-2.2},{"g":"pa","m":"p","t":5,"v":-0.5},{"g":"pa","m":"p","t":6.3,"v":4},{"g":"pa","m":"p","t":7.5,"v":8},{"g":"pa","m":"p","t":8.5,"v":10.5},{"g":"pa","m":"p","t":9.9,"v":11.6},{"g":"pa","m":"p","t":11,"v":11.2},{"g":"pa","m":"p","t":12.5,"v":9.5},{"g":"pa","m":"p","t":14,"v":7.5},{"g":"pa","m":"p","t":16,"v":5.2},{"g":"pa","m":"p","t":18,"v":3.2},{"g":"pa","m":"p","t":20,"v":1.5},{"g":"pa","m":"p","t":21.7,"v":0.5},{"g":"pa","m":"p","t":22.6,"v":0},{"g":"pa","m":"p","t":26,"v":0},{"g":"pa","m":"p","t":30,"v":0.1},
      {"g":"pb","m":"p","t":0,"v":0},{"g":"pb","m":"p","t":1.5,"v":-1.5},{"g":"pb","m":"p","t":3,"v":-2.5},{"g":"pb","m":"p","t":4.5,"v":-2.4},{"g":"pb","m":"p","t":6,"v":0.5},{"g":"pb","m":"p","t":7.5,"v":4},{"g":"pb","m":"p","t":9,"v":7},{"g":"pb","m":"p","t":10.5,"v":9.5},{"g":"pb","m":"p","t":12,"v":10.9},{"g":"pb","m":"p","t":13.5,"v":11.4},{"g":"pb","m":"p","t":14.5,"v":11.5},{"g":"pb","m":"p","t":16,"v":11},{"g":"pb","m":"p","t":17,"v":10.8},{"g":"pb","m":"p","t":18,"v":11.8},{"g":"pb","m":"p","t":19,"v":12},{"g":"pb","m":"p","t":20.5,"v":11.5},{"g":"pb","m":"p","t":22,"v":10.3},{"g":"pb","m":"p","t":24,"v":8.7},{"g":"pb","m":"p","t":26,"v":7},{"g":"pb","m":"p","t":28,"v":5.2},{"g":"pb","m":"p","t":30,"v":3.5},{"g":"pb","m":"p","t":32,"v":2},{"g":"pb","m":"p","t":34,"v":0.8},{"g":"pb","m":"p","t":35.5,"v":0},{"g":"pb","m":"p","t":38,"v":-0.2},{"g":"pb","m":"p","t":40,"v":0},
      {"g":"pc","m":"p","t":0,"v":0},{"g":"pc","m":"p","t":1.5,"v":-1.2},{"g":"pc","m":"p","t":3,"v":-2.8},{"g":"pc","m":"p","t":4.5,"v":-2.7},{"g":"pc","m":"p","t":6,"v":-0.5},{"g":"pc","m":"p","t":7.5,"v":3},{"g":"pc","m":"p","t":9,"v":6},{"g":"pc","m":"p","t":11,"v":8.8},{"g":"pc","m":"p","t":13,"v":10.2},{"g":"pc","m":"p","t":15,"v":10.6},{"g":"pc","m":"p","t":16.5,"v":10.3},{"g":"pc","m":"p","t":18,"v":9.3},{"g":"pc","m":"p","t":20,"v":7.8},{"g":"pc","m":"p","t":22,"v":6.2},{"g":"pc","m":"p","t":24,"v":4.6},{"g":"pc","m":"p","t":26,"v":3.2},{"g":"pc","m":"p","t":28,"v":2},{"g":"pc","m":"p","t":30,"v":0.9},{"g":"pc","m":"p","t":32,"v":0.2},{"g":"pc","m":"p","t":33,"v":0},
      {"g":"pd","m":"p","t":0,"v":0},{"g":"pd","m":"p","t":2,"v":-1.8},{"g":"pd","m":"p","t":3.5,"v":-2.6},{"g":"pd","m":"p","t":5,"v":-2.2},{"g":"pd","m":"p","t":6.5,"v":0.5},{"g":"pd","m":"p","t":8,"v":3.5},{"g":"pd","m":"p","t":10,"v":6.6},{"g":"pd","m":"p","t":12,"v":8.7},{"g":"pd","m":"p","t":14,"v":9.7},{"g":"pd","m":"p","t":16,"v":10},{"g":"pd","m":"p","t":17.5,"v":9.7},{"g":"pd","m":"p","t":19,"v":8.8},{"g":"pd","m":"p","t":21,"v":7.3},{"g":"pd","m":"p","t":23,"v":5.8},{"g":"pd","m":"p","t":25,"v":4.3},{"g":"pd","m":"p","t":27,"v":3},{"g":"pd","m":"p","t":29,"v":1.8},{"g":"pd","m":"p","t":31,"v":0.8},{"g":"pd","m":"p","t":33,"v":0.1},{"g":"pd","m":"p","t":35,"v":-0.2},{"g":"pd","m":"p","t":38,"v":0},{"g":"pd","m":"p","t":45,"v":0.2},{"g":"pd","m":"p","t":50,"v":0.3},{"g":"pd","m":"p","t":55,"v":0.5},{"g":"pd","m":"p","t":58,"v":0.6},{"g":"pd","m":"p","t":62,"v":0.4},{"g":"pd","m":"p","t":66,"v":0.9},{"g":"pd","m":"p","t":68,"v":0.3},{"g":"pd","m":"p","t":75,"v":0.2},{"g":"pd","m":"p","t":84,"v":0.3},{"g":"pd","m":"p","t":90,"v":0.2},{"g":"pd","m":"p","t":97.5,"v":0},
      {"g":"pe","m":"p","t":0,"v":0},{"g":"pe","m":"p","t":1.5,"v":-0.8},{"g":"pe","m":"p","t":3,"v":-2.2},{"g":"pe","m":"p","t":4.5,"v":-2.5},{"g":"pe","m":"p","t":6,"v":-0.8},{"g":"pe","m":"p","t":7.5,"v":2.5},{"g":"pe","m":"p","t":9,"v":5.5},{"g":"pe","m":"p","t":11,"v":8},{"g":"pe","m":"p","t":12.5,"v":9.2},{"g":"pe","m":"p","t":14,"v":9.5},{"g":"pe","m":"p","t":15.5,"v":9},{"g":"pe","m":"p","t":17,"v":7.8},{"g":"pe","m":"p","t":19,"v":6},{"g":"pe","m":"p","t":21,"v":4.2},{"g":"pe","m":"p","t":23,"v":2.5},{"g":"pe","m":"p","t":24.5,"v":1.2},{"g":"pe","m":"p","t":26,"v":0.3},{"g":"pe","m":"p","t":27.5,"v":0},{"g":"pe","m":"p","t":30,"v":0},
      {"g":"pf","m":"p","t":0,"v":0},{"g":"pf","m":"p","t":2,"v":-1.5},{"g":"pf","m":"p","t":3.5,"v":-2.6},{"g":"pf","m":"p","t":5,"v":-2},{"g":"pf","m":"p","t":6.5,"v":0},{"g":"pf","m":"p","t":8,"v":2.5},{"g":"pf","m":"p","t":10,"v":5},{"g":"pf","m":"p","t":12,"v":6.8},{"g":"pf","m":"p","t":14,"v":7.9},{"g":"pf","m":"p","t":16,"v":8.5},{"g":"pf","m":"p","t":18,"v":8.3},{"g":"pf","m":"p","t":20,"v":7.6},{"g":"pf","m":"p","t":22,"v":6.8},{"g":"pf","m":"p","t":24,"v":6},{"g":"pf","m":"p","t":26,"v":5.1},{"g":"pf","m":"p","t":28,"v":4.2},{"g":"pf","m":"p","t":30,"v":3.4},{"g":"pf","m":"p","t":32,"v":3.2},{"g":"pf","m":"p","t":33.5,"v":2.9},{"g":"pf","m":"p","t":35,"v":2},{"g":"pf","m":"p","t":37,"v":0.8},{"g":"pf","m":"p","t":38.5,"v":0},{"g":"pf","m":"p","t":41,"v":-0.2},{"g":"pf","m":"p","t":44,"v":0},
      {"g":"pg","m":"p","t":0,"v":0},{"g":"pg","m":"p","t":1,"v":0.1},{"g":"pg","m":"p","t":2.5,"v":-1.8},{"g":"pg","m":"p","t":4,"v":-2.8},{"g":"pg","m":"p","t":5.5,"v":-1.5},{"g":"pg","m":"p","t":7,"v":1.5},{"g":"pg","m":"p","t":8.5,"v":4.5},{"g":"pg","m":"p","t":10,"v":6.5},{"g":"pg","m":"p","t":11.5,"v":7.6},{"g":"pg","m":"p","t":13,"v":8},{"g":"pg","m":"p","t":14.5,"v":7.8},{"g":"pg","m":"p","t":16,"v":7.2},{"g":"pg","m":"p","t":18,"v":6},{"g":"pg","m":"p","t":20,"v":4.6},{"g":"pg","m":"p","t":22,"v":3.2},{"g":"pg","m":"p","t":24,"v":2},{"g":"pg","m":"p","t":26,"v":1},{"g":"pg","m":"p","t":28,"v":0.3},{"g":"pg","m":"p","t":30,"v":0},
      {"g":"ph","m":"p","t":0,"v":0},{"g":"ph","m":"p","t":2,"v":-1.5},{"g":"ph","m":"p","t":3.5,"v":-2.5},{"g":"ph","m":"p","t":5,"v":-2.3},{"g":"ph","m":"p","t":6.5,"v":-0.5},{"g":"ph","m":"p","t":8,"v":2},{"g":"ph","m":"p","t":10,"v":4.4},{"g":"ph","m":"p","t":12,"v":6},{"g":"ph","m":"p","t":14,"v":6.9},{"g":"ph","m":"p","t":16,"v":7.4},{"g":"ph","m":"p","t":18,"v":7.6},{"g":"ph","m":"p","t":20,"v":7.7},{"g":"ph","m":"p","t":22,"v":7.3},{"g":"ph","m":"p","t":24,"v":6.3},{"g":"ph","m":"p","t":26,"v":5},{"g":"ph","m":"p","t":28,"v":3.6},{"g":"ph","m":"p","t":30,"v":2.3},{"g":"ph","m":"p","t":32,"v":1.2},{"g":"ph","m":"p","t":34,"v":0.4},{"g":"ph","m":"p","t":36,"v":0},
      {"g":"pi","m":"p","t":0,"v":0},{"g":"pi","m":"p","t":2,"v":-1.2},{"g":"pi","m":"p","t":3.5,"v":-2.2},{"g":"pi","m":"p","t":5,"v":-2.8},{"g":"pi","m":"p","t":6.5,"v":-1.5},{"g":"pi","m":"p","t":8,"v":0.5},{"g":"pi","m":"p","t":10,"v":2.8},{"g":"pi","m":"p","t":12,"v":4.6},{"g":"pi","m":"p","t":14,"v":5.8},{"g":"pi","m":"p","t":16,"v":6.6},{"g":"pi","m":"p","t":18,"v":7},{"g":"pi","m":"p","t":20,"v":7.3},{"g":"pi","m":"p","t":22,"v":7.5},{"g":"pi","m":"p","t":24,"v":7.4},{"g":"pi","m":"p","t":26,"v":6.9},{"g":"pi","m":"p","t":28,"v":6.2},{"g":"pi","m":"p","t":30,"v":5},{"g":"pi","m":"p","t":32,"v":3.8},{"g":"pi","m":"p","t":34,"v":3},{"g":"pi","m":"p","t":36,"v":2.1},{"g":"pi","m":"p","t":38,"v":1.2},{"g":"pi","m":"p","t":39.5,"v":0.5},{"g":"pi","m":"p","t":40.5,"v":1.3},{"g":"pi","m":"p","t":42,"v":1.5},{"g":"pi","m":"p","t":45,"v":1.5},{"g":"pi","m":"p","t":48,"v":1.4},{"g":"pi","m":"p","t":50,"v":1.2},{"g":"pi","m":"p","t":52,"v":0.7},{"g":"pi","m":"p","t":54,"v":0.4},{"g":"pi","m":"p","t":57,"v":0.3},{"g":"pi","m":"p","t":60,"v":0.3},{"g":"pi","m":"p","t":64,"v":0.4},{"g":"pi","m":"p","t":66,"v":0.5},{"g":"pi","m":"p","t":67,"v":0.8},{"g":"pi","m":"p","t":68,"v":0.3},{"g":"pi","m":"p","t":72,"v":0.2},{"g":"pi","m":"p","t":80,"v":0.2},{"g":"pi","m":"p","t":84,"v":0.3},{"g":"pi","m":"p","t":90,"v":0.1},{"g":"pi","m":"p","t":97.5,"v":0},
      {"g":"pj","m":"p","t":0,"v":0},{"g":"pj","m":"p","t":2,"v":-1},{"g":"pj","m":"p","t":3.5,"v":-2},{"g":"pj","m":"p","t":5,"v":-2.5},{"g":"pj","m":"p","t":6.5,"v":-1.8},{"g":"pj","m":"p","t":8,"v":0},{"g":"pj","m":"p","t":10,"v":2.2},{"g":"pj","m":"p","t":12,"v":4},{"g":"pj","m":"p","t":14,"v":5.3},{"g":"pj","m":"p","t":16,"v":6.3},{"g":"pj","m":"p","t":18,"v":6.9},{"g":"pj","m":"p","t":19,"v":7},{"g":"pj","m":"p","t":21,"v":6.7},{"g":"pj","m":"p","t":23,"v":5.8},{"g":"pj","m":"p","t":25,"v":4.6},{"g":"pj","m":"p","t":27,"v":3.3},{"g":"pj","m":"p","t":29,"v":2},{"g":"pj","m":"p","t":31,"v":1},{"g":"pj","m":"p","t":33,"v":0.3},{"g":"pj","m":"p","t":35,"v":0},
      {"g":"pk","m":"p","t":0,"v":0},{"g":"pk","m":"p","t":2,"v":-1.6},{"g":"pk","m":"p","t":3.5,"v":-2.7},{"g":"pk","m":"p","t":5,"v":-2.6},{"g":"pk","m":"p","t":6.5,"v":-1.5},{"g":"pk","m":"p","t":8,"v":0.2},{"g":"pk","m":"p","t":10,"v":2},{"g":"pk","m":"p","t":12,"v":3.6},{"g":"pk","m":"p","t":14,"v":4.9},{"g":"pk","m":"p","t":16,"v":5.8},{"g":"pk","m":"p","t":18,"v":6.4},{"g":"pk","m":"p","t":20,"v":6.7},{"g":"pk","m":"p","t":22,"v":6.5},{"g":"pk","m":"p","t":24,"v":5.8},{"g":"pk","m":"p","t":26,"v":4.8},{"g":"pk","m":"p","t":28,"v":3.6},{"g":"pk","m":"p","t":30,"v":2.4},{"g":"pk","m":"p","t":32,"v":1.3},{"g":"pk","m":"p","t":34,"v":0.5},{"g":"pk","m":"p","t":36,"v":0},{"g":"pk","m":"p","t":40,"v":0},
      {"g":"pl","m":"p","t":0,"v":0},{"g":"pl","m":"p","t":1.5,"v":-1},{"g":"pl","m":"p","t":3,"v":-2.3},{"g":"pl","m":"p","t":4.5,"v":-1.8},{"g":"pl","m":"p","t":6,"v":0.5},{"g":"pl","m":"p","t":7.5,"v":3.5},{"g":"pl","m":"p","t":9,"v":6.2},{"g":"pl","m":"p","t":11,"v":8.3},{"g":"pl","m":"p","t":13,"v":9},{"g":"pl","m":"p","t":15,"v":8.2},{"g":"pl","m":"p","t":17,"v":6.6},{"g":"pl","m":"p","t":19,"v":4.9},{"g":"pl","m":"p","t":21,"v":3.3},{"g":"pl","m":"p","t":23,"v":1.9},{"g":"pl","m":"p","t":25,"v":0.8},{"g":"pl","m":"p","t":27,"v":0},
      {"g":"s1","m":"s","t":0,"v":0},{"g":"s1","m":"s","t":1,"v":-1.5},{"g":"s1","m":"s","t":2,"v":-3.2},{"g":"s1","m":"s","t":3.5,"v":-5.5},{"g":"s1","m":"s","t":5,"v":-7.2},{"g":"s1","m":"s","t":7,"v":-8.9},{"g":"s1","m":"s","t":9,"v":-10.3},{"g":"s1","m":"s","t":10.5,"v":-11},{"g":"s1","m":"s","t":12,"v":-11.3},{"g":"s1","m":"s","t":14,"v":-12.3},{"g":"s1","m":"s","t":16,"v":-13.5},{"g":"s1","m":"s","t":18,"v":-14.2},{"g":"s1","m":"s","t":20,"v":-14.5},{"g":"s1","m":"s","t":22,"v":-14.5},{"g":"s1","m":"s","t":24,"v":-14},{"g":"s1","m":"s","t":26,"v":-13},{"g":"s1","m":"s","t":28,"v":-11.7},{"g":"s1","m":"s","t":30,"v":-10.4},{"g":"s1","m":"s","t":32,"v":-9},{"g":"s1","m":"s","t":34,"v":-7.2},{"g":"s1","m":"s","t":36,"v":-5.6},{"g":"s1","m":"s","t":38,"v":-4.6},{"g":"s1","m":"s","t":40,"v":-3.8},{"g":"s1","m":"s","t":42,"v":-2.9},{"g":"s1","m":"s","t":44,"v":-2.1},{"g":"s1","m":"s","t":46,"v":-1.5},{"g":"s1","m":"s","t":48,"v":-1.1},{"g":"s1","m":"s","t":50,"v":-0.8},{"g":"s1","m":"s","t":53,"v":-0.5},{"g":"s1","m":"s","t":58,"v":-0.3},{"g":"s1","m":"s","t":65,"v":-0.15},{"g":"s1","m":"s","t":75,"v":-0.1},
      {"g":"s2","m":"s","t":0,"v":0},{"g":"s2","m":"s","t":1,"v":-1.6},{"g":"s2","m":"s","t":2,"v":-3.4},{"g":"s2","m":"s","t":3.5,"v":-5.8},{"g":"s2","m":"s","t":5,"v":-7.6},{"g":"s2","m":"s","t":7,"v":-9.3},{"g":"s2","m":"s","t":9,"v":-10.8},{"g":"s2","m":"s","t":10.5,"v":-11.2},{"g":"s2","m":"s","t":12,"v":-11.8},{"g":"s2","m":"s","t":14,"v":-12.9},{"g":"s2","m":"s","t":16,"v":-14},{"g":"s2","m":"s","t":18,"v":-14.8},{"g":"s2","m":"s","t":19.5,"v":-15},{"g":"s2","m":"s","t":21,"v":-14.9},{"g":"s2","m":"s","t":23,"v":-14.4},{"g":"s2","m":"s","t":25,"v":-13.5},{"g":"s2","m":"s","t":27,"v":-12.3},{"g":"s2","m":"s","t":29,"v":-11},{"g":"s2","m":"s","t":31,"v":-9.6},{"g":"s2","m":"s","t":33,"v":-8.2},{"g":"s2","m":"s","t":35,"v":-6.7},{"g":"s2","m":"s","t":37,"v":-5.3},{"g":"s2","m":"s","t":39,"v":-4.2},{"g":"s2","m":"s","t":41,"v":-3.2},{"g":"s2","m":"s","t":43,"v":-2.4},{"g":"s2","m":"s","t":45,"v":-1.7},{"g":"s2","m":"s","t":47,"v":-1.2},{"g":"s2","m":"s","t":50,"v":-0.7},{"g":"s2","m":"s","t":54,"v":-0.4},{"g":"s2","m":"s","t":60,"v":-0.2},{"g":"s2","m":"s","t":70,"v":-0.1},{"g":"s2","m":"s","t":80,"v":-0.1},
      {"g":"s3","m":"s","t":0,"v":0},{"g":"s3","m":"s","t":1,"v":-1.6},{"g":"s3","m":"s","t":2,"v":-3.5},{"g":"s3","m":"s","t":3.5,"v":-6},{"g":"s3","m":"s","t":5,"v":-7.9},{"g":"s3","m":"s","t":7,"v":-9.7},{"g":"s3","m":"s","t":9,"v":-11.2},{"g":"s3","m":"s","t":11,"v":-12.4},{"g":"s3","m":"s","t":13,"v":-13.5},{"g":"s3","m":"s","t":15,"v":-14.4},{"g":"s3","m":"s","t":17,"v":-15.1},{"g":"s3","m":"s","t":19,"v":-15.6},{"g":"s3","m":"s","t":21,"v":-15.9},{"g":"s3","m":"s","t":22.5,"v":-16},{"g":"s3","m":"s","t":24,"v":-15.6},{"g":"s3","m":"s","t":26,"v":-14.7},{"g":"s3","m":"s","t":28,"v":-13.4},{"g":"s3","m":"s","t":30,"v":-11.9},{"g":"s3","m":"s","t":32,"v":-10.3},{"g":"s3","m":"s","t":34,"v":-8.8},{"g":"s3","m":"s","t":36,"v":-7.3},{"g":"s3","m":"s","t":38,"v":-5.9},{"g":"s3","m":"s","t":40,"v":-4.6},{"g":"s3","m":"s","t":42,"v":-3.5},{"g":"s3","m":"s","t":44,"v":-2.6},{"g":"s3","m":"s","t":46,"v":-1.9},{"g":"s3","m":"s","t":48,"v":-1.3},{"g":"s3","m":"s","t":51,"v":-0.8},{"g":"s3","m":"s","t":55,"v":-0.45},{"g":"s3","m":"s","t":60,"v":-0.25},{"g":"s3","m":"s","t":70,"v":-0.1},{"g":"s3","m":"s","t":80,"v":-0.1},{"g":"s3","m":"s","t":90,"v":-0.2},{"g":"s3","m":"s","t":97.5,"v":-0.3},
      {"g":"s4","m":"s","t":0,"v":0},{"g":"s4","m":"s","t":1,"v":-1.7},{"g":"s4","m":"s","t":2,"v":-3.6},{"g":"s4","m":"s","t":3.5,"v":-6.2},{"g":"s4","m":"s","t":5,"v":-8.2},{"g":"s4","m":"s","t":7,"v":-10.1},{"g":"s4","m":"s","t":9,"v":-11.7},{"g":"s4","m":"s","t":11,"v":-13},{"g":"s4","m":"s","t":13,"v":-14.2},{"g":"s4","m":"s","t":15,"v":-15.2},{"g":"s4","m":"s","t":17,"v":-16},{"g":"s4","m":"s","t":19,"v":-16.6},{"g":"s4","m":"s","t":21,"v":-16.9},{"g":"s4","m":"s","t":22.5,"v":-17},{"g":"s4","m":"s","t":24,"v":-16.6},{"g":"s4","m":"s","t":26,"v":-15.6},{"g":"s4","m":"s","t":28,"v":-14.2},{"g":"s4","m":"s","t":30,"v":-12.6},{"g":"s4","m":"s","t":32,"v":-10.9},{"g":"s4","m":"s","t":34,"v":-9.2},{"g":"s4","m":"s","t":36,"v":-7.6},{"g":"s4","m":"s","t":38,"v":-6.1},{"g":"s4","m":"s","t":40,"v":-4.8},{"g":"s4","m":"s","t":42,"v":-3.6},{"g":"s4","m":"s","t":44,"v":-2.7},{"g":"s4","m":"s","t":46,"v":-1.9},{"g":"s4","m":"s","t":48,"v":-1.3},{"g":"s4","m":"s","t":51,"v":-0.8},{"g":"s4","m":"s","t":55,"v":-0.45},{"g":"s4","m":"s","t":60,"v":-0.2},{"g":"s4","m":"s","t":70,"v":-0.1},
      {"g":"s5","m":"s","t":0,"v":0},{"g":"s5","m":"s","t":1,"v":-1.8},{"g":"s5","m":"s","t":2,"v":-3.8},{"g":"s5","m":"s","t":3.5,"v":-6.5},{"g":"s5","m":"s","t":5,"v":-8.6},{"g":"s5","m":"s","t":7,"v":-10.6},{"g":"s5","m":"s","t":9,"v":-12.3},{"g":"s5","m":"s","t":11,"v":-13.8},{"g":"s5","m":"s","t":13,"v":-15.2},{"g":"s5","m":"s","t":15,"v":-16.3},{"g":"s5","m":"s","t":17,"v":-17.2},{"g":"s5","m":"s","t":19,"v":-17.8},{"g":"s5","m":"s","t":20.5,"v":-18},{"g":"s5","m":"s","t":22,"v":-17.8},{"g":"s5","m":"s","t":24,"v":-17},{"g":"s5","m":"s","t":26,"v":-15.7},{"g":"s5","m":"s","t":28,"v":-14},{"g":"s5","m":"s","t":30,"v":-12.2},{"g":"s5","m":"s","t":32,"v":-10.4},{"g":"s5","m":"s","t":34,"v":-8.6},{"g":"s5","m":"s","t":36,"v":-6.9},{"g":"s5","m":"s","t":38,"v":-5.5},{"g":"s5","m":"s","t":40,"v":-4.3},{"g":"s5","m":"s","t":42,"v":-3.2},{"g":"s5","m":"s","t":44,"v":-2.4},{"g":"s5","m":"s","t":46,"v":-1.7},{"g":"s5","m":"s","t":48,"v":-1.2},{"g":"s5","m":"s","t":51,"v":-0.7},{"g":"s5","m":"s","t":55,"v":-0.4},{"g":"s5","m":"s","t":60,"v":-0.2},{"g":"s5","m":"s","t":70,"v":-0.1},
      {"g":"s6","m":"s","t":0,"v":0},{"g":"s6","m":"s","t":1,"v":-1.8},{"g":"s6","m":"s","t":2,"v":-3.9},{"g":"s6","m":"s","t":3.5,"v":-6.7},{"g":"s6","m":"s","t":5,"v":-8.9},{"g":"s6","m":"s","t":7,"v":-11},{"g":"s6","m":"s","t":9,"v":-12.8},{"g":"s6","m":"s","t":11,"v":-14.4},{"g":"s6","m":"s","t":13,"v":-15.8},{"g":"s6","m":"s","t":15,"v":-17},{"g":"s6","m":"s","t":17,"v":-17.9},{"g":"s6","m":"s","t":19,"v":-18.6},{"g":"s6","m":"s","t":21,"v":-19},{"g":"s6","m":"s","t":22.5,"v":-18.8},{"g":"s6","m":"s","t":24,"v":-18},{"g":"s6","m":"s","t":26,"v":-16.6},{"g":"s6","m":"s","t":28,"v":-14.8},{"g":"s6","m":"s","t":30,"v":-12.8},{"g":"s6","m":"s","t":32,"v":-10.8},{"g":"s6","m":"s","t":34,"v":-8.9},{"g":"s6","m":"s","t":36,"v":-7.2},{"g":"s6","m":"s","t":38,"v":-5.7},{"g":"s6","m":"s","t":40,"v":-4.4},{"g":"s6","m":"s","t":42,"v":-3.3},{"g":"s6","m":"s","t":44,"v":-2.5},{"g":"s6","m":"s","t":46,"v":-1.8},{"g":"s6","m":"s","t":48,"v":-1.3},{"g":"s6","m":"s","t":51,"v":-0.8},{"g":"s6","m":"s","t":55,"v":-0.4},{"g":"s6","m":"s","t":60,"v":-0.2},
      {"g":"s7","m":"s","t":0,"v":0},{"g":"s7","m":"s","t":1,"v":-1.9},{"g":"s7","m":"s","t":2,"v":-4.2},{"g":"s7","m":"s","t":3,"v":-6},{"g":"s7","m":"s","t":4.5,"v":-7.5},{"g":"s7","m":"s","t":6,"v":-10},{"g":"s7","m":"s","t":7.5,"v":-12.2},{"g":"s7","m":"s","t":9,"v":-14.1},{"g":"s7","m":"s","t":11,"v":-16.2},{"g":"s7","m":"s","t":13.6,"v":-18.8},{"g":"s7","m":"s","t":16,"v":-20.5},{"g":"s7","m":"s","t":18.1,"v":-21.4},{"g":"s7","m":"s","t":20.8,"v":-22.1},{"g":"s7","m":"s","t":23,"v":-21.8},{"g":"s7","m":"s","t":25.3,"v":-20.7},{"g":"s7","m":"s","t":27.5,"v":-19},{"g":"s7","m":"s","t":29.9,"v":-16.9},{"g":"s7","m":"s","t":32,"v":-14},{"g":"s7","m":"s","t":34.4,"v":-11.2},{"g":"s7","m":"s","t":36.5,"v":-9.2},{"g":"s7","m":"s","t":38.9,"v":-7.5},{"g":"s7","m":"s","t":41,"v":-5.6},{"g":"s7","m":"s","t":43.4,"v":-3.7},{"g":"s7","m":"s","t":46,"v":-2.4},{"g":"s7","m":"s","t":49,"v":-1.5},{"g":"s7","m":"s","t":53,"v":-0.9},{"g":"s7","m":"s","t":58,"v":-0.5},{"g":"s7","m":"s","t":65,"v":-0.3},{"g":"s7","m":"s","t":75,"v":-0.2},{"g":"s7","m":"s","t":85,"v":-0.2},{"g":"s7","m":"s","t":97.5,"v":-0.3},
      {"g":"s8","m":"s","t":0,"v":0},{"g":"s8","m":"s","t":1,"v":-1.5},{"g":"s8","m":"s","t":1.8,"v":-2.8},{"g":"s8","m":"s","t":3,"v":-5.5},{"g":"s8","m":"s","t":4.5,"v":-8.9},{"g":"s8","m":"s","t":6,"v":-12},{"g":"s8","m":"s","t":7.2,"v":-14.1},{"g":"s8","m":"s","t":8.5,"v":-16},{"g":"s8","m":"s","t":9.9,"v":-17.8},{"g":"s8","m":"s","t":11.8,"v":-19.8},{"g":"s8","m":"s","t":13.6,"v":-21.6},{"g":"s8","m":"s","t":16,"v":-23.5},{"g":"s8","m":"s","t":18.1,"v":-24.9},{"g":"s8","m":"s","t":19.8,"v":-25.4},{"g":"s8","m":"s","t":21.3,"v":-25.6},{"g":"s8","m":"s","t":22.8,"v":-24.8},{"g":"s8","m":"s","t":24.4,"v":-23.5},{"g":"s8","m":"s","t":25.8,"v":-21.6},{"g":"s8","m":"s","t":27.1,"v":-19.7},{"g":"s8","m":"s","t":29,"v":-17.8},{"g":"s8","m":"s","t":30.8,"v":-16},{"g":"s8","m":"s","t":32.2,"v":-14},{"g":"s8","m":"s","t":33.5,"v":-12.2},{"g":"s8","m":"s","t":35.3,"v":-10.5},{"g":"s8","m":"s","t":37.1,"v":-8.9},{"g":"s8","m":"s","t":38.9,"v":-7.5},{"g":"s8","m":"s","t":40.7,"v":-6.1},{"g":"s8","m":"s","t":42.5,"v":-4.6},{"g":"s8","m":"s","t":44.3,"v":-3.2},{"g":"s8","m":"s","t":46,"v":-2.4},{"g":"s8","m":"s","t":48,"v":-1.8},{"g":"s8","m":"s","t":50.7,"v":-1.4},{"g":"s8","m":"s","t":53.4,"v":-1.1},{"g":"s8","m":"s","t":56,"v":-0.7},{"g":"s8","m":"s","t":58.8,"v":-0.4},{"g":"s8","m":"s","t":62,"v":-0.2},{"g":"s8","m":"s","t":70,"v":-0.1},
      {"g":"s9","m":"s","t":0,"v":0},{"g":"s9","m":"s","t":1,"v":-1.6},{"g":"s9","m":"s","t":2,"v":-3.4},{"g":"s9","m":"s","t":3.5,"v":-5.7},{"g":"s9","m":"s","t":5,"v":-7.5},{"g":"s9","m":"s","t":7,"v":-9.2},{"g":"s9","m":"s","t":9,"v":-10.6},{"g":"s9","m":"s","t":10.5,"v":-10.9},{"g":"s9","m":"s","t":12,"v":-11.6},{"g":"s9","m":"s","t":14,"v":-12.9},{"g":"s9","m":"s","t":16,"v":-14.2},{"g":"s9","m":"s","t":18,"v":-15.1},{"g":"s9","m":"s","t":19.5,"v":-15.4},{"g":"s9","m":"s","t":21,"v":-15.2},{"g":"s9","m":"s","t":23,"v":-14.2},{"g":"s9","m":"s","t":25,"v":-12.8},{"g":"s9","m":"s","t":27,"v":-11.3},{"g":"s9","m":"s","t":29,"v":-9.9},{"g":"s9","m":"s","t":31,"v":-8.6},{"g":"s9","m":"s","t":33,"v":-7.5},{"g":"s9","m":"s","t":35,"v":-6.5},{"g":"s9","m":"s","t":37,"v":-5.8},{"g":"s9","m":"s","t":39,"v":-4.7},{"g":"s9","m":"s","t":41,"v":-3.5},{"g":"s9","m":"s","t":43,"v":-2.4},{"g":"s9","m":"s","t":45,"v":-1.7},{"g":"s9","m":"s","t":47,"v":-1.2},{"g":"s9","m":"s","t":49,"v":-1},{"g":"s9","m":"s","t":51,"v":-0.5},{"g":"s9","m":"s","t":54,"v":-0.3},{"g":"s9","m":"s","t":58,"v":-0.2},{"g":"s9","m":"s","t":65,"v":-0.1},{"g":"s9","m":"s","t":75,"v":-0.05},
      {"g":"s10","m":"s","t":0,"v":0},{"g":"s10","m":"s","t":1,"v":-1.7},{"g":"s10","m":"s","t":2,"v":-3.6},{"g":"s10","m":"s","t":3.5,"v":-6.1},{"g":"s10","m":"s","t":5,"v":-8.1},{"g":"s10","m":"s","t":7,"v":-9.9},{"g":"s10","m":"s","t":9,"v":-11.4},{"g":"s10","m":"s","t":11,"v":-12.8},{"g":"s10","m":"s","t":13,"v":-14.1},{"g":"s10","m":"s","t":15,"v":-15.1},{"g":"s10","m":"s","t":17,"v":-15.9},{"g":"s10","m":"s","t":19,"v":-16.4},{"g":"s10","m":"s","t":20.5,"v":-16.5},{"g":"s10","m":"s","t":22,"v":-16.3},{"g":"s10","m":"s","t":24,"v":-15.6},{"g":"s10","m":"s","t":26,"v":-14.4},{"g":"s10","m":"s","t":28,"v":-12.9},{"g":"s10","m":"s","t":30,"v":-11.3},{"g":"s10","m":"s","t":32,"v":-9.6},{"g":"s10","m":"s","t":34,"v":-8},{"g":"s10","m":"s","t":36,"v":-6.6},{"g":"s10","m":"s","t":38,"v":-5.3},{"g":"s10","m":"s","t":40,"v":-4.2},{"g":"s10","m":"s","t":42,"v":-3.2},{"g":"s10","m":"s","t":44,"v":-2.3},{"g":"s10","m":"s","t":46,"v":-1.6},{"g":"s10","m":"s","t":48,"v":-1.1},{"g":"s10","m":"s","t":51,"v":-0.6},{"g":"s10","m":"s","t":55,"v":-0.3},{"g":"s10","m":"s","t":62,"v":-0.1}
    ]
  },
  "vconcat": [
    {
      "width": 385,
      "height": 289,
      "layer": [
        {
          "data": {"name": "d70"},
          "mark": {"type": "line", "strokeWidth": 1.5, "interpolate": "monotone"},
          "encoding": {
            "x": {"field": "t", "type": "quantitative", "scale": {"domain": [-3.9, 80.6], "nice": false, "zero": false}, "axis": {"values": [0, 5, 10, 15, 20, 25, 30, 35, 40, 45, 50, 55, 60, 65, 70, 75], "format": ".1f", "title": "Time (s)"}},
            "y": {"field": "v", "type": "quantitative", "scale": {"domain": [-17.2, 12], "nice": false, "zero": false}, "axis": {"values": [-15, -12, -9, -6, -3, 0, 3, 6, 9, 12], "format": "d", "labelOverlap": false, "title": "Speed error (m/s)"}},
            "detail": {"field": "g"},
            "color": {"field": "m", "type": "nominal", "scale": {"domain": ["p", "s"], "range": ["#262626", "#767676"]}, "legend": {"orient": "none", "legendX": 256.7, "legendY": 5, "title": null, "symbolType": "M-2,0H2", "labelExpr": "datum.label == 'p' ? 'physical Gipps' : 'statistical Gipps'"}},
            "strokeDash": {"field": "m", "type": "nominal", "scale": {"domain": ["p", "s"], "range": [[1, 0], [1.5, 2.4]]}, "legend": {"orient": "none", "legendX": 256.7, "legendY": 5, "title": null, "symbolType": "M-2,0H2", "labelExpr": "datum.label == 'p' ? 'physical Gipps' : 'statistical Gipps'"}}
          }
        },
        {
          "data": {"values": [{"t": 0, "t2": 77.5, "v": 0}]},
          "mark": {"type": "rule", "color": "#000000", "strokeWidth": 1.8},
          "encoding": {
            "x": {"field": "t", "type": "quantitative", "axis": {"orient": "top", "labels": false, "ticks": false, "title": null}},
            "x2": {"field": "t2"},
            "y": {"field": "v", "type": "quantitative", "axis": {"values": [-15, -12, -9, -6, -3, 0, 3, 6, 9, 12], "format": "d", "labelOverlap": false, "title": "Speed error (m/s)"}}
          }
        },
        {
          "data": {"values": [{"t": 59.3, "v": -11.7, "label": "SP70 profiles"}]},
          "mark": {"type": "text", "align": "left", "baseline": "middle", "fontSize": 10, "color": "#222222"},
          "encoding": {
            "x": {"field": "t", "type": "quantitative", "axis": null},
            "y": {"field": "v", "type": "quantitative", "axis": {"values": [-15, -12, -9, -6, -3, 0, 3, 6, 9, 12], "format": "d", "labelOverlap": false, "title": "Speed error (m/s)"}},
            "text": {"field": "label"}
          }
        }
      ],
      "resolve": {"axis": {"x": "independent"}}
    },
    {
      "spacing": 50.3,
      "bounds": "flush",
      "resolve": {"scale": {"color": "independent", "strokeDash": "independent"}},
      "vconcat": [
        {
          "width": 385,
          "height": 286,
          "layer": [
            {
              "data": {"name": "d100"},
              "mark": {"type": "line", "strokeWidth": 1.5, "interpolate": "monotone"},
              "encoding": {
                "x": {"field": "t", "type": "quantitative", "scale": {"domain": [-4.72, 90.95], "nice": false, "zero": false}, "axis": {"values": [0, 5, 10, 15, 20, 25, 30, 35, 40, 45, 50, 55, 60, 65, 70, 75, 80, 85], "format": ".1f", "title": "Time (s)"}},
                "y": {"field": "v", "type": "quantitative", "scale": {"domain": [-22.9, 14.9], "nice": false, "zero": false}, "axis": {"values": [-15, -12, -9, -6, -3, 0, 3, 6, 9, 12], "format": "d", "labelOverlap": false, "title": "Speed error (m/s)"}},
                "detail": {"field": "g"},
                "color": {"field": "m", "type": "nominal", "scale": {"domain": ["p", "s"], "range": ["#262626", "#767676"]}, "legend": {"orient": "none", "legendX": 256.7, "legendY": 3.4, "title": null, "symbolType": "M-2,0H2", "labelExpr": "datum.label == 'p' ? 'physical Gipps' : 'statistical Gipps'"}},
                "strokeDash": {"field": "m", "type": "nominal", "scale": {"domain": ["p", "s"], "range": [[1, 0], [1.5, 2.4]]}, "legend": {"orient": "none", "legendX": 256.7, "legendY": 3.4, "title": null, "symbolType": "M-2,0H2", "labelExpr": "datum.label == 'p' ? 'physical Gipps' : 'statistical Gipps'"}}
              }
            },
            {
              "data": {"values": [{"t": 0, "t2": 87.2, "v": 0}]},
              "mark": {"type": "rule", "color": "#000000", "strokeWidth": 1.8},
              "encoding": {
                "x": {"field": "t", "type": "quantitative", "axis": {"orient": "top", "labels": false, "ticks": false, "title": null}},
                "x2": {"field": "t2"},
                "y": {"field": "v", "type": "quantitative", "axis": {"values": [-15, -12, -9, -6, -3, 0, 3, 6, 9, 12], "format": "d", "labelOverlap": false, "title": "Speed error (m/s)"}}
              }
            },
            {
              "data": {"values": [{"t": 59.3, "v": -11.4, "label": "SP100 profiles"}]},
              "mark": {"type": "text", "align": "left", "baseline": "middle", "fontSize": 10, "color": "#222222"},
              "encoding": {
                "x": {"field": "t", "type": "quantitative", "axis": null},
                "y": {"field": "v", "type": "quantitative", "axis": {"values": [-15, -12, -9, -6, -3, 0, 3, 6, 9, 12], "format": "d", "labelOverlap": false, "title": "Speed error (m/s)"}},
                "text": {"field": "label"}
              }
            }
          ],
          "resolve": {"axis": {"x": "independent"}}
        },
        {
          "width": 385,
          "height": 294,
          "layer": [
            {
              "data": {"name": "d130"},
              "mark": {"type": "line", "strokeWidth": 1.5, "interpolate": "monotone"},
              "encoding": {
                "x": {"field": "t", "type": "quantitative", "scale": {"domain": [-4.53, 99.97], "nice": false, "zero": false}, "axis": {"values": [0, 5, 10, 15, 20, 25, 30, 35, 40, 45, 50, 55, 60, 65, 70, 75, 80, 85, 90, 95], "format": ".1f", "title": "Time (s)"}},
                "y": {"field": "v", "type": "quantitative", "scale": {"domain": [-27.7, 13.84], "nice": false, "zero": false}, "axis": {"values": [-15, -12, -9, -6, -3, 0, 3, 6, 9, 12], "format": "d", "labelOverlap": false, "title": "Speed error (m/s)"}},
                "detail": {"field": "g"},
                "color": {"field": "m", "type": "nominal", "scale": {"domain": ["p", "s"], "range": ["#262626", "#767676"]}, "legend": {"orient": "none", "legendX": 258.3, "legendY": 4.4, "title": null, "symbolType": "M-2,0H2", "labelExpr": "datum.label == 'p' ? 'physical Gipps' : 'statistical Gipps'"}},
                "strokeDash": {"field": "m", "type": "nominal", "scale": {"domain": ["p", "s"], "range": [[1, 0], [1.5, 2.4]]}, "legend": {"orient": "none", "legendX": 258.3, "legendY": 4.4, "title": null, "symbolType": "M-2,0H2", "labelExpr": "datum.label == 'p' ? 'physical Gipps' : 'statistical Gipps'"}}
              }
            },
            {
              "data": {"values": [{"t": 0, "t2": 96.8, "v": 0}]},
              "mark": {"type": "rule", "color": "#000000", "strokeWidth": 1.8},
              "encoding": {
                "x": {"field": "t", "type": "quantitative", "axis": {"orient": "top", "labels": false, "ticks": false, "title": null}},
                "x2": {"field": "t2"},
                "y": {"field": "v", "type": "quantitative", "axis": {"values": [-15, -12, -9, -6, -3, 0, 3, 6, 9, 12], "format": "d", "labelOverlap": false, "title": "Speed error (m/s)"}}
              }
            },
            {
              "data": {"values": [{"t": 59.25, "v": -11.5, "label": "SP130 profiles"}]},
              "mark": {"type": "text", "align": "left", "baseline": "middle", "fontSize": 10, "color": "#222222"},
              "encoding": {
                "x": {"field": "t", "type": "quantitative", "axis": null},
                "y": {"field": "v", "type": "quantitative", "axis": {"values": [-15, -12, -9, -6, -3, 0, 3, 6, 9, 12], "format": "d", "labelOverlap": false, "title": "Speed error (m/s)"}},
                "text": {"field": "label"}
              }
            }
          ],
          "resolve": {"axis": {"x": "independent"}}
        }
      ]
    }
  ]
}
